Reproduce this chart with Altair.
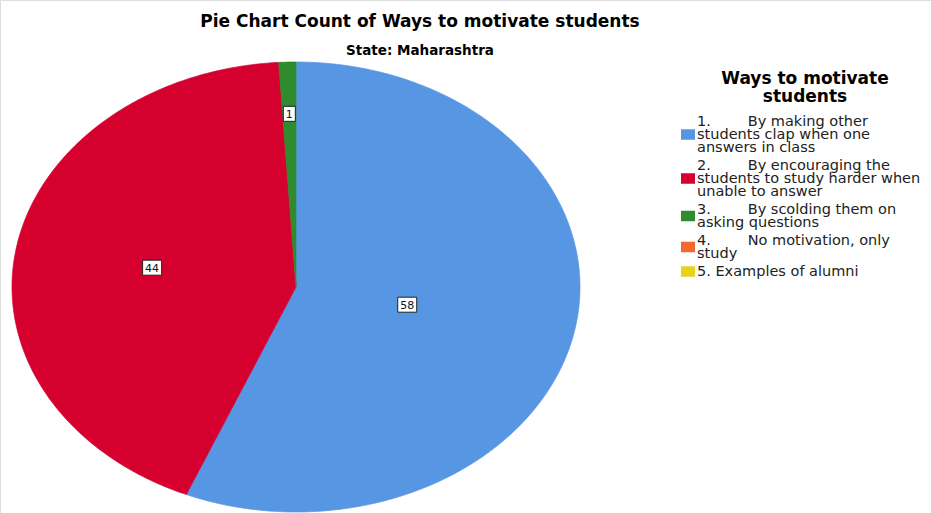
import altair as alt
import pandas as pd

W, H = 931, 513
CX, CY, RX, RY = 296, 287, 284, 225
NB = "\u00a0"

# ---- data ----
categories = [
    "1. By making other students clap when one answers in class",
    "2. By encouraging the students to study harder when unable to answer",
    "3. By scolding them on asking questions",
    "4. No motivation, only study",
    "5. Examples of alumni",
]
counts = [58, 44, 1, 0, 0]
colors = ["#5796E3", "#D6002F", "#2E8B2E", "#F46A2C", "#E6D31B"]
legend_lines = [
    ["1." + NB * 8 + "By making other", "students clap when one", "answers in class"],
    ["2." + NB * 8 + "By encouraging the", "students to study harder when", "unable to answer"],
    ["3." + NB * 8 + "By scolding them on", "asking questions"],
    ["4." + NB * 8 + "No motivation, only", "study"],
    ["5. Examples of alumni"],
]
title_text = "Pie Chart Count of Ways to motivate students"
subtitle_text = "State: Maharashtra"
legend_title = "Ways to motivate\nstudents"

slices = pd.DataFrame({"category": categories, "n": counts, "order": list(range(len(categories)))})
leg_df = pd.DataFrame({
    "category": categories,
    "label": ["\n".join(l) for l in legend_lines],
    "nl": [len(l) for l in legend_lines],
    "order": list(range(len(categories))),
})

xs = alt.Scale(domain=[0, W], nice=False, zero=False)
ys = alt.Scale(domain=[0, H], nice=False, zero=False, reverse=True)
cscale = alt.Scale(domain=categories, range=colors)

base = (
    alt.Chart(slices)
    .transform_filter("datum.n > 0")
    .transform_joinaggregate(total="sum(n)")
    .transform_window(cum="sum(n)", sort=[alt.SortField("order", order="ascending")], frame=[None, 0])
    .transform_calculate(a0="2*PI*(datum.cum - datum.n)/datum.total")
    .transform_calculate(a1="2*PI*datum.cum/datum.total")
)

pie = (
    base.transform_calculate(idx="sequence(-1, 202)")
    .transform_flatten(["idx"])
    .transform_calculate(t="clamp(datum.idx, 0, 200)/200")
    .transform_calculate(ang="datum.a0 + (datum.a1 - datum.a0)*datum.t")
    .transform_calculate(edge="datum.idx >= 0 && datum.idx <= 200 ? 1 : 0")
    .transform_calculate(px=f"{CX} + datum.edge*{RX}*sin(datum.ang)")
    .transform_calculate(py=f"{CY} - datum.edge*{RY}*cos(datum.ang)")
    .mark_line(filled=True, strokeWidth=0.7, interpolate="linear")
    .encode(
        x=alt.X("px:Q", scale=xs, axis=None),
        y=alt.Y("py:Q", scale=ys, axis=None),
        color=alt.Color("category:N", scale=cscale, legend=None),
        stroke=alt.Stroke("category:N", scale=cscale, legend=None),
        detail="category:N",
        order=alt.Order("idx:Q"),
    )
)

lab = (
    base.transform_calculate(mid="(datum.a0 + datum.a1)/2")
    .transform_calculate(h="(datum.a1 - datum.a0)/2")
    .transform_calculate(fr="datum.n/datum.total < 0.05 ? 0.77 : (2/3)*sin(datum.h)/datum.h + 0.03")
    .transform_calculate(lx=f"{CX} + datum.fr*{RX}*sin(datum.mid)")
    .transform_calculate(ly=f"{CY} - datum.fr*{RY}*cos(datum.mid)")
    .transform_calculate(lab="'' + datum.n")
    .transform_calculate(hw="(7*length(datum.lab) + 5)/2")
    .transform_calculate(bx0="datum.lx - datum.hw")
    .transform_calculate(bx1="datum.lx + datum.hw")
    .transform_calculate(by0="datum.ly - 7.5")
    .transform_calculate(by1="datum.ly + 7.5")
)
boxes = lab.mark_rect(fill="white", stroke="#222222", strokeWidth=1).encode(
    x=alt.X("bx0:Q", scale=xs, axis=None),
    x2="bx1:Q",
    y=alt.Y("by0:Q", scale=ys, axis=None),
    y2="by1:Q",
)
numbers = lab.mark_text(
    font="DejaVu Sans", fontSize=11, color="#111111", align="center", baseline="middle", dy=1
).encode(
    x=alt.X("lx:Q", scale=xs, axis=None),
    y=alt.Y("ly:Q", scale=ys, axis=None),
    text="lab:N",
)

leg = (
    alt.Chart(leg_df)
    .transform_window(cl="sum(nl)", sort=[alt.SortField("order", order="ascending")], frame=[None, 0])
    .transform_calculate(fc="121.5 + 13*(datum.cl - datum.nl) + 5*datum.order")
    .transform_calculate(ty="datum.fc - 7")
    .transform_calculate(sy="datum.fc + (datum.nl - 1)*6.5")
)
leg_text = leg.mark_text(
    font="DejaVu Sans", fontSize=14.5, color="#222222", align="left", baseline="top",
    lineHeight=13, lineBreak="\n"
).encode(
    x=alt.value(697),
    y=alt.Y("ty:Q", scale=ys, axis=None),
    text="label:N",
)
leg_sq = leg.mark_point(
    shape="M-1,-0.75H1V0.75H-1Z", filled=True, size=196, opacity=1
).encode(
    x=alt.value(688),
    y=alt.Y("sy:Q", scale=ys, axis=None),
    color=alt.Color("category:N", scale=cscale, legend=None),
)

title = alt.Chart(pd.DataFrame({"t": [title_text]})).mark_text(
    font="DejaVu Sans", fontWeight="bold", fontSize=17, align="center", baseline="middle", color="black"
).encode(x=alt.value(420), y=alt.value(22), text="t:N")

subtitle = alt.Chart(pd.DataFrame({"t": [subtitle_text]})).mark_text(
    font="DejaVu Sans", fontWeight="bold", fontSize=13.5, align="center", baseline="middle", color="black"
).encode(x=alt.value(420), y=alt.value(51), text="t:N")

leg_title = alt.Chart(pd.DataFrame({"t": [legend_title]})).mark_text(
    font="DejaVu Sans", fontWeight="bold", fontSize=17, align="center", baseline="top",
    lineHeight=18, lineBreak="\n", color="black"
).encode(x=alt.value(805), y=alt.value(71), text="t:N")

chart = (
    alt.layer(pie, boxes, numbers, leg_text, leg_sq, title, subtitle, leg_title)
    .properties(width=W, height=H, padding=0, autosize=alt.AutoSizeParams(type="none"))
    .configure_view(strokeWidth=0)
    .configure(background="white")
)

chart.save("out.html", embed_options={"renderer": "svg", "actions": False})
